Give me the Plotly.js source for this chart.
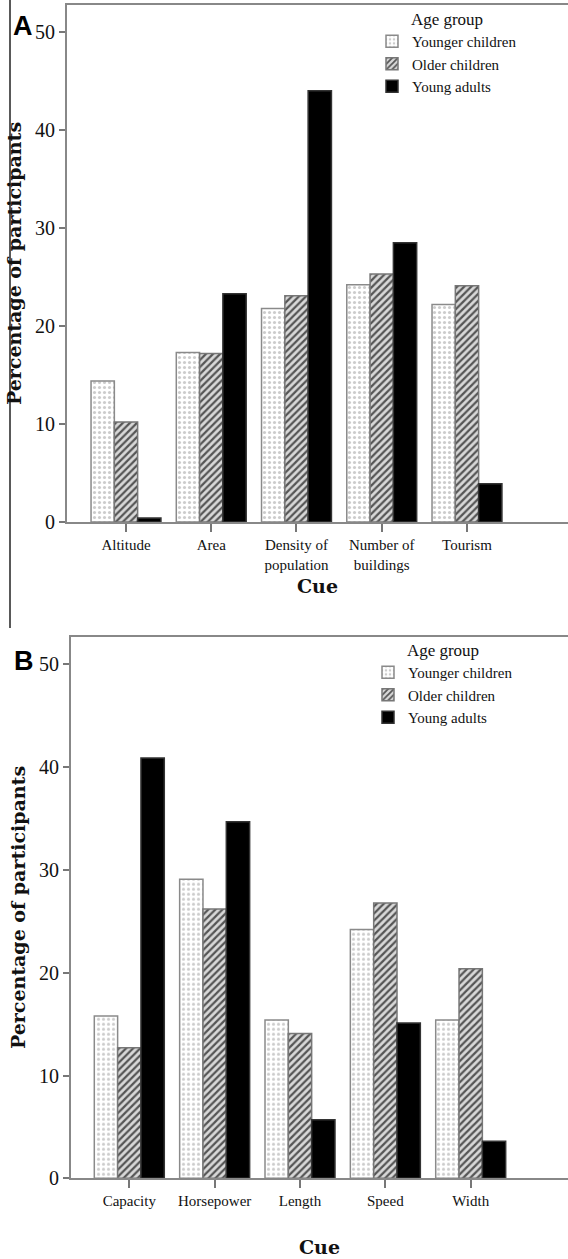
<!DOCTYPE html>
<html>
<head>
<meta charset="utf-8">
<script src="https://cdn.plot.ly/plotly-3.0.1.min.js"></script>
<style>html,body{margin:0;padding:0;background:#fff;}#chart{width:568px;height:1259px;}</style>
</head>
<body>
<div id="chart"></div>
<script>
// Panel A data
const cuesA = ["Altitude", "Area", "Density of<br>population", "Number of<br>buildings", "Tourism"];
const youngerA = [14.4, 17.3, 21.8, 24.2, 22.2];
const olderA = [10.2, 17.2, 23.1, 25.3, 24.1];
const adultsA = [0.4, 23.3, 44.0, 28.5, 3.9];

// Panel B data
const cuesB = ["Capacity", "Horsepower", "Length", "Speed", "Width"];
const youngerB = [15.8, 29.1, 15.4, 24.2, 15.4];
const olderB = [12.7, 26.2, 14.1, 26.8, 20.4];
const adultsB = [40.9, 34.7, 5.7, 15.1, 3.6];

const seriesNames = ["Younger children", "Older children", "Young adults"];
const yTicks = [0, 10, 20, 30, 40, 50];

const W = 568, H = 1259;
const serif = "Liberation Serif";
const boldSerif = "DejaVu Serif";

const styles = [
  {color: "#ffffff", line: {color: "#8a8a8a", width: 1.5},
   pattern: {shape: ".", fgcolor: "#cccccc", bgcolor: "#ffffff", size: 5, solidity: 0.3}},
  {color: "#cfcfcf", line: {color: "#777777", width: 1.5},
   pattern: {shape: "/", fgcolor: "#555555", bgcolor: "#d8d8d8", size: 5, solidity: 0.45}},
  {color: "#000000", line: {color: "#333333", width: 1.5}}
];

function makeTraces(cats, series, xa, ya, leg) {
  return series.map((vals, i) => ({
    type: "bar",
    name: seriesNames[i],
    x: cats,
    y: vals,
    xaxis: xa,
    yaxis: ya,
    legend: leg,
    marker: styles[i],
    hoverinfo: "x+y+name"
  }));
}

const data = [
  ...makeTraces(cuesA, [youngerA, olderA, adultsA], "x", "y", "legend"),
  ...makeTraces(cuesB, [youngerB, olderB, adultsB], "x2", "y2", "legend2")
];

function py(px) { return 1 - px / H; }
function pxx(px) { return px / W; }

const xCommon = {
  type: "category",
  showline: true, linecolor: "#888", linewidth: 2, mirror: true,
  ticks: "outside", ticklen: 8, tickcolor: "#777", tickwidth: 1.5,
  tickfont: {family: serif, size: 15, color: "#111"},
  showgrid: false, zeroline: false, fixedrange: true
};
const yCommon = {
  showline: true, linecolor: "#888", linewidth: 2,
  ticks: "outside", ticklen: 6, tickcolor: "#777", tickwidth: 1.5,
  tickvals: yTicks,
  tickfont: {family: serif, size: 20, color: "#111"},
  showgrid: false, zeroline: false, fixedrange: true
};
const titleFont = {family: boldSerif, size: 19, color: "#111"};

const layout = {
  width: W, height: H,
  margin: {l: 0, r: 0, t: 0, b: 0},
  paper_bgcolor: "#fff", plot_bgcolor: "#fff",
  font: {family: serif, color: "#111"},
  barmode: "group", bargap: 0.18, bargroupgap: 0,
  showlegend: true,
  xaxis: Object.assign({}, xCommon, {
    domain: [pxx(67), 1], range: [-0.692, 5.185], anchor: "y",
    title: {text: "<b>Cue</b>", font: titleFont, standoff: 8}
  }),
  yaxis: Object.assign({}, yCommon, {
    domain: [py(522), py(5)], range: [0, 52.76], anchor: "x",
    title: {text: "<b>Percentage of participants</b>", font: titleFont, standoff: 8}
  }),
  xaxis2: Object.assign({}, xCommon, {
    domain: [pxx(71), 1], range: [-0.683, 5.14], anchor: "y2",
    title: {text: "<b>Cue</b>", font: titleFont, standoff: 32}
  }),
  yaxis2: Object.assign({}, yCommon, {
    domain: [py(1178.3), py(636.7)], range: [0, 52.7], anchor: "x2",
    title: {text: "<b>Percentage of participants</b>", font: titleFont, standoff: 8}
  }),
  legend: {
    x: pxx(372), y: py(3), xanchor: "left", yanchor: "top",
    bgcolor: "rgba(0,0,0,0)", borderwidth: 0,
    font: {family: serif, size: 15, color: "#111"},
    title: {text: "Age group", side: "top center", font: {family: serif, size: 17, color: "#111"}},
    tracegroupgap: 0, itemclick: false
  },
  legend2: {
    x: pxx(368), y: py(634), xanchor: "left", yanchor: "top",
    bgcolor: "rgba(0,0,0,0)", borderwidth: 0,
    font: {family: serif, size: 15, color: "#111"},
    title: {text: "Age group", side: "top center", font: {family: serif, size: 17, color: "#111"}},
    tracegroupgap: 0, itemclick: false
  },
  shapes: [
    {type: "line", xref: "paper", yref: "paper", x0: pxx(10), x1: pxx(10), y0: py(628), y1: 1,
     line: {color: "#222", width: 1.5}}
  ],
  annotations: [
    {text: "<b>A</b>", xref: "paper", yref: "paper", x: pxx(22.5), y: py(26), xanchor: "center", yanchor: "middle",
     showarrow: false, font: {family: "Liberation Sans", size: 27, color: "#000"}},
    {text: "<b>B</b>", xref: "paper", yref: "paper", x: pxx(24), y: py(661), xanchor: "center", yanchor: "middle",
     showarrow: false, font: {family: "Liberation Sans", size: 27, color: "#000"}}
  ]
};

Plotly.newPlot("chart", data, layout, {displayModeBar: false});
</script>
</body>
</html>
